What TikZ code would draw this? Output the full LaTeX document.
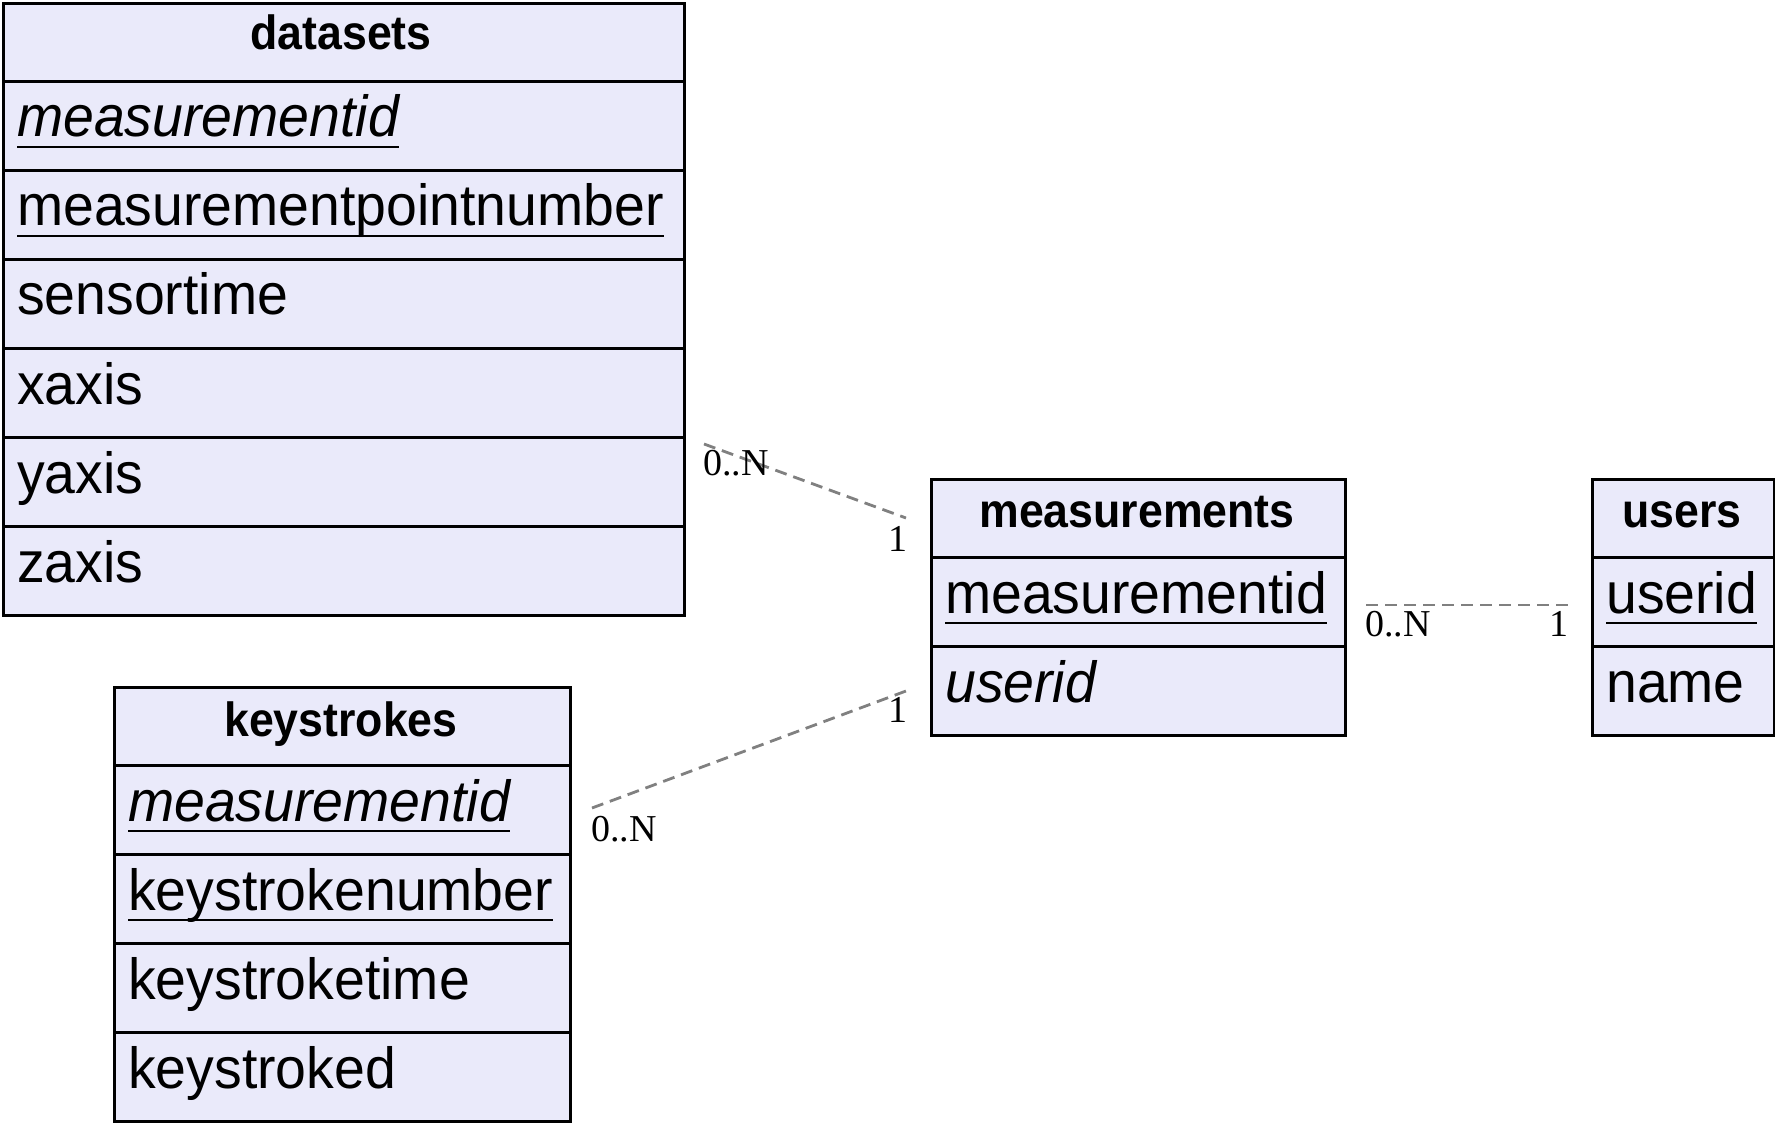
\documentclass[tikz,border=0pt]{standalone}
\usepackage{fontspec}
\setmainfont{Liberation Sans}
\newfontfamily\bodyfont[FakeStretch=0.955]{Liberation Sans}
\newfontfamily\hdrfont[FakeStretch=0.93]{Liberation Sans}
\newfontfamily\lblfont{Liberation Serif}
\definecolor{lav}{HTML}{EAEAFA}
\definecolor{edgegray}{HTML}{808080}
\tikzset{
  cell/.style={draw=black, line width=2.6pt, fill=lav, rectangle, inner sep=0pt, anchor=north west},
  hdr/.style={inner sep=0pt, anchor=base, font=\hdrfont\fontsize{48}{52}\selectfont\bfseries},
  fld/.style={inner sep=0pt, anchor=base west, font=\bodyfont\fontsize{58}{62}\selectfont},
  ifld/.style={inner sep=0pt, anchor=base west, font=\bodyfont\fontsize{58}{62}\selectfont\itshape},
  ulstyle/.style={line width=2.4pt},
  rel/.style={draw=edgegray, line width=2.8pt, dash pattern=on 12pt off 7pt},
  card/.style={inner sep=0pt, anchor=base west, font=\lblfont\fontsize{38}{40}\selectfont},
}
\newcommand\ulnode[1]{\draw[ulstyle] ([yshift=-10pt]#1.base west) -- ([yshift=-10pt]#1.base east);}
\begin{document}
\begin{tikzpicture}[x=1pt,y=-1pt]
\useasboundingbox (0,0) rectangle (1775,1123);

% ---------- datasets ----------
\node[cell, minimum width=681pt, minimum height=78pt] (dsH) at (2,2) {};
\node[cell, minimum width=681pt, minimum height=89pt] (ds1) at (2,80) {};
\node[cell, minimum width=681pt, minimum height=89pt] (ds2) at (2,169) {};
\node[cell, minimum width=681pt, minimum height=89pt] (ds3) at (2,258) {};
\node[cell, minimum width=681pt, minimum height=89pt] (ds4) at (2,347) {};
\node[cell, minimum width=681pt, minimum height=89pt] (ds5) at (2,436) {};
\node[cell, minimum width=681pt, minimum height=89pt] (ds6) at (2,525) {};
\node[hdr] (dsT) at (341,50) {datasets};
\node[ifld] (dsF1) at (17,137) {measurementid};
\node[fld] (dsF2) at (17,226) {measurementpointnumber};
\node[fld] (dsF3) at (17,315) {sensortime};
\node[fld] (dsF4) at (17,404) {xaxis};
\node[fld] (dsF5) at (17,493) {yaxis};
\node[fld] (dsF6) at (17,582) {zaxis};
\ulnode{dsF1}
\ulnode{dsF2}

% ---------- measurements ----------
\node[cell, minimum width=414pt, minimum height=78pt] (msH) at (930,478) {};
\node[cell, minimum width=414pt, minimum height=89pt] (ms1) at (930,556) {};
\node[cell, minimum width=414pt, minimum height=89pt] (ms2) at (930,645) {};
\node[hdr] (msT) at (1137,527) {measurements};
\node[fld] (msF1) at (945,613) {measurementid};
\node[ifld] (msF2) at (945,702) {userid};
\ulnode{msF1}

% ---------- users ----------
\node[cell, minimum width=182pt, minimum height=78pt] (usH) at (1591,478) {};
\node[cell, minimum width=182pt, minimum height=89pt] (us1) at (1591,556) {};
\node[cell, minimum width=182pt, minimum height=89pt] (us2) at (1591,645) {};
\node[hdr] (usT) at (1682,527) {users};
\node[fld] (usF1) at (1606,613) {userid};
\node[fld] (usF2) at (1606,702) {name};
\ulnode{usF1}

% ---------- keystrokes ----------
\node[cell, minimum width=456pt, minimum height=78pt] (ksH) at (113,686) {};
\node[cell, minimum width=456pt, minimum height=89pt] (ks1) at (113,764) {};
\node[cell, minimum width=456pt, minimum height=89pt] (ks2) at (113,853) {};
\node[cell, minimum width=456pt, minimum height=89pt] (ks3) at (113,942) {};
\node[cell, minimum width=456pt, minimum height=89pt] (ks4) at (113,1031) {};
\node[hdr] (ksT) at (341,736) {keystrokes};
\node[ifld] (ksF1) at (128,821) {measurementid};
\node[fld] (ksF2) at (128,910) {keystrokenumber};
\node[fld] (ksF3) at (128,999) {keystroketime};
\node[fld] (ksF4) at (128,1088) {keystroked};
\ulnode{ksF1}
\ulnode{ksF2}

% ---------- relations ----------
\coordinate (r1a) at (704,444);
\coordinate (r1b) at (906,518);
\draw[rel] (r1a) -- (r1b);
\node[card] (r1la) at (703,475) {0..N};
\node[card] (r1lb) at (888,551) {1};

\coordinate (r2a) at (592,808);
\coordinate (r2b) at (906,691);
\draw[rel] (r2a) -- (r2b);
\node[card] (r2la) at (591,841) {0..N};
\node[card] (r2lb) at (888,722) {1};

\coordinate (r3a) at (1366,605);
\coordinate (r3b) at (1568,605);
\draw[rel] (r3a) -- (r3b);
\node[card] (r3la) at (1365,636) {0..N};
\node[card] (r3lb) at (1549,636) {1};
\end{tikzpicture}
\end{document}
